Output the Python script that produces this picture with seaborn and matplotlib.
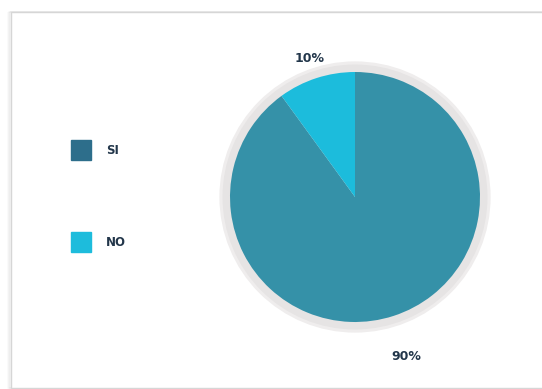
import numpy as np
import matplotlib
matplotlib.use("Agg")
import matplotlib.pyplot as plt
from matplotlib.patches import Circle, Rectangle
from matplotlib.lines import Line2D
import seaborn as sns

# Survey answers
categories = ["SI", "NO"]
values = [90, 10]
pct_labels = ["90%", "10%"]

sns.set_theme(style="white")
plt.rcParams["font.family"] = ["DejaVu Sans"]

slice_colors = ["#3591A8", "#1CBCDC"]
legend_colors = ["#2D6E8B", "#1DBCDC"]
text_color = "#22364A"

W, H = 542, 389
fig = plt.figure(figsize=(W / 100, H / 100), dpi=100)
fig.patch.set_facecolor("white")

# Card frame with a soft shadow on the left
bg = fig.add_axes([0, 0, 1, 1])
bg.set_xlim(0, W)
bg.set_ylim(H, 0)
bg.axis("off")
for off, a in [(3, 0.05), (2, 0.08), (1, 0.12)]:
    bg.add_patch(Rectangle((11 - off, 12), 540, 376, fill=False,
                           edgecolor="#999999", lw=1.2, alpha=a))
bg.add_patch(Rectangle((11, 12), 540, 376, facecolor="white",
                       edgecolor="#D6D6D6", lw=1.0))

# Pie chart with a soft grey ring behind it
cx, cy, r_px = 355, 197, 125
half = 150
ax = fig.add_axes([(cx - half) / W, 1 - (cy + half) / H, 2 * half / W, 2 * half / H])
ax.add_patch(Circle((0, 0), 1.085, facecolor="#EFEDED", edgecolor="none", zorder=0))
ax.add_patch(Circle((0, 0), 1.06, facecolor="#E6E4E4", edgecolor="none", zorder=1))
wedges, _ = ax.pie(values, colors=slice_colors, startangle=90, counterclock=False,
                   radius=1.0, wedgeprops=dict(linewidth=0))
for w in wedges:
    w.set_zorder(2)
ax.set_xlim(-half / r_px, half / r_px)
ax.set_ylim(-half / r_px, half / r_px)
ax.set_aspect("equal")
ax.axis("off")

label_dist = [1.34, 1.165]
for w, lab, d in zip(wedges, pct_labels, label_dist):
    ang = np.deg2rad((w.theta1 + w.theta2) / 2)
    ax.text(d * np.cos(ang), d * np.sin(ang), lab, ha="center", va="center",
            fontsize=9, fontweight="bold", color=text_color)

# Legend
handles = [Line2D([], [], marker="s", linestyle="none", markersize=14,
                  markerfacecolor=c, markeredgecolor=c) for c in legend_colors]
leg = fig.legend(handles, categories, loc="center left",
                 bbox_to_anchor=(72.6 / W, 1 - 196.5 / H), frameon=False,
                 borderpad=0, borderaxespad=0,
                 labelspacing=6.65, handletextpad=1.3, handlelength=1.5,
                 prop=dict(size=8.5, weight="bold"))
for t in leg.get_texts():
    t.set_color(text_color)

fig.savefig("out.png", dpi=100, facecolor="white")
